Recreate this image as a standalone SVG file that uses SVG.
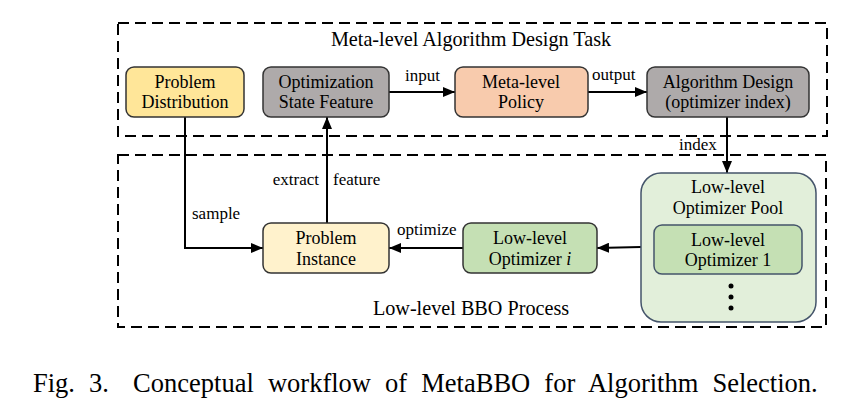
<svg xmlns="http://www.w3.org/2000/svg" width="844" height="420" viewBox="0 0 844 420">
<style>
text{font-family:"Liberation Serif","Times New Roman",serif;fill:#000}
.t{font-size:18px;text-anchor:middle}
.l{font-size:17px}
.title{font-size:20.2px;text-anchor:middle}
.dash{fill:none;stroke:#000;stroke-width:2;stroke-dasharray:11 6}
.box{stroke:#333;stroke-width:1.5}
.line{fill:none;stroke:#000;stroke-width:2}
</style>
<defs>
<marker id="ah" viewBox="0 0 12 10" refX="12" refY="5" markerWidth="12" markerHeight="10" markerUnits="userSpaceOnUse" orient="auto">
<path d="M0,0 L12,5 L0,10 z" fill="#000"/>
</marker>
</defs>
<rect width="844" height="420" fill="#fff"/>
<g id="meta-task">
<rect class="dash" x="118" y="23" width="709" height="113"/>
<text class="title" x="471" y="46">Meta-level Algorithm Design Task</text>
</g>
<g id="bbo-process">
<rect class="dash" x="118" y="155" width="708" height="172"/>
<text class="title" x="471" y="315">Low-level BBO Process</text>
</g>
<g id="connectors">
<line class="line" x1="389" y1="92" x2="455" y2="92" marker-end="url(#ah)"/>
<text class="l" x="405" y="81">input</text>
<line class="line" x1="588" y1="92" x2="647" y2="92" marker-end="url(#ah)"/>
<text class="l" x="592" y="80">output</text>
<line class="line" x1="727" y1="117" x2="727" y2="173" marker-end="url(#ah)"/>
<text class="l" x="679" y="150">index</text>
<polyline class="line" points="185,117 185,248 263,248" marker-end="url(#ah)"/>
<text class="l" x="192" y="219">sample</text>
<line class="line" x1="327" y1="223" x2="327" y2="117" marker-end="url(#ah)"/>
<text class="l" x="319" y="185" text-anchor="end">extract</text>
<text class="l" x="333" y="185">feature</text>
<line class="line" x1="463" y1="248" x2="389" y2="248" marker-end="url(#ah)"/>
<text class="l" x="397" y="235">optimize</text>
<line class="line" x1="641" y1="247" x2="597" y2="248" marker-end="url(#ah)"/>
</g>
<g id="problem-distribution">
<rect class="box" x="126" y="67" width="118" height="50" rx="8" fill="#ffe699"/>
<text class="t" x="185" y="88">Problem</text>
<text class="t" x="185" y="108">Distribution</text>
</g>
<g id="optimization-state-feature">
<rect class="box" x="263" y="67" width="126" height="50" rx="8" fill="#aeaaaa"/>
<text class="t" x="326" y="88">Optimization</text>
<text class="t" x="326" y="108">State Feature</text>
</g>
<g id="meta-level-policy">
<rect class="box" x="455" y="67" width="133" height="50" rx="8" fill="#f8cbad"/>
<text class="t" x="521" y="88">Meta-level</text>
<text class="t" x="521" y="108">Policy</text>
</g>
<g id="algorithm-design">
<rect class="box" x="647" y="67" width="162" height="50" rx="8" fill="#aeaaaa"/>
<text class="t" x="728" y="88">Algorithm Design</text>
<text class="t" x="728" y="108">(optimizer index)</text>
</g>
<g id="problem-instance">
<rect class="box" x="263" y="223" width="126" height="50" rx="8" fill="#fff2cc"/>
<text class="t" x="326" y="244">Problem</text>
<text class="t" x="326" y="265">Instance</text>
</g>
<g id="low-level-optimizer-i">
<rect class="box" x="463" y="223" width="134" height="50" rx="8" fill="#c5e0b4"/>
<text class="t" x="530" y="244">Low-level</text>
<text class="t" x="530" y="265">Optimizer <tspan font-style="italic">i</tspan></text>
</g>
<g id="optimizer-pool">
<rect x="641" y="173" width="175" height="149" rx="20" fill="#e2efda" stroke="#44546a" stroke-width="1.5"/>
<text class="t" x="728" y="193">Low-level</text>
<text class="t" x="728" y="214">Optimizer Pool</text>
<circle cx="731" cy="286" r="2.5" fill="#000"/>
<circle cx="731" cy="297" r="2.5" fill="#000"/>
<circle cx="731" cy="308" r="2.5" fill="#000"/>
</g>
<g id="low-level-optimizer-1">
<rect x="654" y="225" width="148" height="49" rx="8" fill="#c5e0b4" stroke="#44546a" stroke-width="1.5"/>
<text class="t" x="728" y="246">Low-level</text>
<text class="t" x="728" y="266">Optimizer 1</text>
</g>
<text x="33" y="392" font-size="26.5" word-spacing="7.5">Fig. 3.<tspan dx="10"> Conceptual workflow of MetaBBO for Algorithm Selection.</tspan></text>
</svg>
